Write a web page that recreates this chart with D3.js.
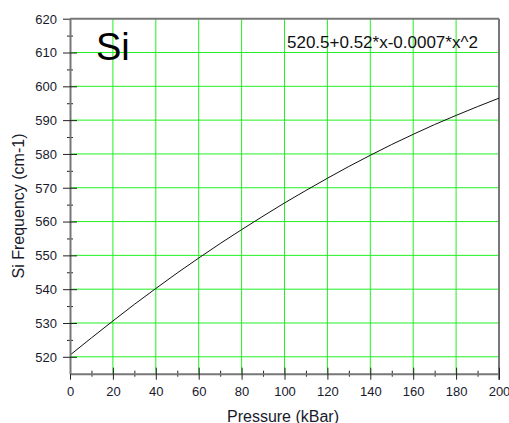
<!DOCTYPE html>
<html lang="en">
<head>
  <meta charset="utf-8">
  <title>Si Frequency vs Pressure</title>
  <script type="text/javascript" src="https://cdn.jsdelivr.net/npm/d3@7"></script>
  <style>
    body { margin: 0; background: #fff; }
    text { font-family: "Liberation Sans", Arial, sans-serif; }
  </style>
</head>
<body>
  <script type="text/javascript">
    // values every 10 kBar
    let pressure = [0, 10, 20, 30, 40, 50, 60, 70, 80, 90, 100,
                    110, 120, 130, 140, 150, 160, 170, 180, 190, 200];
    let frequency = [520.5, 525.6, 530.6, 535.5, 540.2, 544.8, 549.2, 553.5, 557.6, 561.6, 565.5,
                     569.2, 572.8, 576.3, 579.6, 582.8, 585.8, 588.7, 591.4, 594.0, 596.5];

    let xTicks = [0, 20, 40, 60, 80, 100, 120, 140, 160, 180, 200];
    let yTicks = [520, 530, 540, 550, 560, 570, 580, 590, 600, 610, 620];
    let fitLabel = "520.5+0.52*x-0.0007*x^2";

    let w = 509;
    let h = 423;
    let margin = { top: 18.7, right: 10, bottom: 49.3, left: 70 };
    let iw = w - margin.left - margin.right;
    let ih = h - margin.top - margin.bottom;
    let textColor = "#181a2c";

    let xScale = d3.scaleLinear().domain([0, 200]).range([0, iw]);
    let yScale = d3.scaleLinear().domain([515, 620]).range([ih, 0]);

    let svg = d3.select("body")
      .append("svg")
      .attr("width", w)
      .attr("height", h);

    let g = svg.append("g")
      .attr("transform", "translate(" + margin.left + "," + margin.top + ")");

    // green grid
    g.append("g")
      .selectAll("line")
      .data(xTicks.filter(function(d) { return d > 0 && d < 200; }))
      .enter()
      .append("line")
      .attr("x1", function(d) { return xScale(d); })
      .attr("x2", function(d) { return xScale(d); })
      .attr("y1", 0)
      .attr("y2", ih)
      .attr("stroke", "#22f022")
      .attr("stroke-width", 1);

    g.append("g")
      .selectAll("line")
      .data(yTicks.filter(function(d) { return d < 620; }))
      .enter()
      .append("line")
      .attr("x1", 0)
      .attr("x2", iw)
      .attr("y1", function(d) { return yScale(d); })
      .attr("y2", function(d) { return yScale(d); })
      .attr("stroke", "#22f022")
      .attr("stroke-width", 1);

    // frame top and right
    g.append("line")
      .attr("x1", 0).attr("x2", iw).attr("y1", 0).attr("y2", 0)
      .attr("stroke", "#777").attr("stroke-width", 2);
    g.append("line")
      .attr("x1", iw).attr("x2", iw).attr("y1", 0).attr("y2", ih + 6)
      .attr("stroke", "#777").attr("stroke-width", 2);

    // curve
    let line = d3.line()
      .x(function(d, i) { return xScale(pressure[i]); })
      .y(function(d) { return yScale(d); })
      .curve(d3.curveMonotoneX);

    g.append("path")
      .datum(frequency)
      .attr("d", line)
      .attr("fill", "none")
      .attr("stroke", "#111")
      .attr("stroke-width", 1);

    // x axis
    let xMinor = g.append("g")
      .attr("transform", "translate(0," + ih + ")")
      .call(d3.axisBottom(xScale).tickValues(d3.range(10, 200, 20)).tickFormat("").tickSizeOuter(0));
    xMinor.select(".domain").remove();
    xMinor.selectAll(".tick line").attr("y1", -3).attr("y2", 3).attr("stroke", "#222");

    let xAxis = g.append("g")
      .attr("transform", "translate(0," + ih + ")")
      .call(d3.axisBottom(xScale).tickValues(xTicks).tickSizeOuter(0));
    xAxis.select(".domain").attr("stroke", "#777").attr("stroke-width", 2);
    xAxis.selectAll(".tick line")
      .attr("y1", function(d) { return d === 0 ? 0 : -6; })
      .attr("y2", 6)
      .attr("stroke", "#222");
    xAxis.selectAll(".tick text")
      .attr("y", 22.3).attr("dy", 0)
      .attr("fill", textColor)
      .style("font-size", "13px")
      .style("font-family", "'Liberation Sans', Arial, sans-serif");

    // y axis
    let yMinor = g.append("g")
      .call(d3.axisLeft(yScale).tickValues(d3.range(525, 620, 10)).tickFormat("").tickSizeOuter(0));
    yMinor.select(".domain").remove();
    yMinor.selectAll(".tick line").attr("x1", -3).attr("x2", 3).attr("stroke", "#222");

    let yAxis = g.append("g")
      .call(d3.axisLeft(yScale).tickValues(yTicks).tickSizeOuter(0));
    yAxis.select(".domain").attr("stroke", "#777").attr("stroke-width", 2);
    yAxis.selectAll(".tick line")
      .attr("x1", -7)
      .attr("x2", function(d) { return d === 620 ? 0 : 7; })
      .attr("stroke", "#222");
    yAxis.selectAll(".tick text")
      .attr("x", -13).attr("dy", "0.34em")
      .attr("fill", textColor)
      .style("font-size", "13px")
      .style("font-family", "'Liberation Sans', Arial, sans-serif");

    // titles
    svg.append("text")
      .attr("x", 283)
      .attr("y", 421.5)
      .attr("text-anchor", "middle")
      .attr("fill", textColor)
      .style("font-size", "16px")
      .text("Pressure (kBar)");

    svg.append("text")
      .attr("transform", "translate(24,206) rotate(-90)")
      .attr("text-anchor", "middle")
      .attr("fill", textColor)
      .style("font-size", "16px")
      .text("Si Frequency (cm-1)");

    svg.append("text")
      .attr("x", 96)
      .attr("y", 60)
      .attr("fill", "#000")
      .style("font-size", "38px")
      .text("Si");

    svg.append("text")
      .attr("x", 287)
      .attr("y", 48.3)
      .attr("fill", "#111")
      .style("font-size", "17px")
      .text(fitLabel);
  </script>
</body>
</html>
